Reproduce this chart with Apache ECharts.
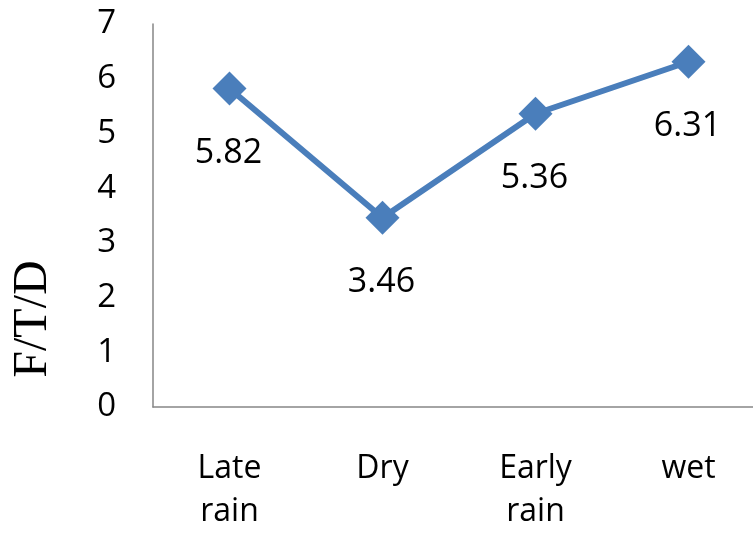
<!DOCTYPE html>
<html>
<head>
<meta charset="utf-8">
<script src="https://cdn.jsdelivr.net/npm/echarts@6/dist/echarts.min.js"></script>
<style>html,body{margin:0;padding:0;background:#fff;}#c{width:753px;height:533px;}</style>
</head>
<body>
<div id="c"></div>
<script>
var categories = ["Late rain", "Dry", "Early rain", "wet"];
var values = [5.82, 3.46, 5.36, 6.31];
var yTicks = [0, 1, 2, 3, 4, 5, 6, 7];
var yName = "F/T/D";

var chart = echarts.init(document.getElementById('c'));
var fontFam = '"Open Sans", sans-serif';
chart.setOption({
  animation: false,
  backgroundColor: '#ffffff',
  grid: { left: 153, top: 24, bottom: 126, width: 612, outerBoundsMode: 'none', containLabel: false },
  xAxis: {
    type: 'category',
    data: categories,
    boundaryGap: true,
    axisLine: { lineStyle: { color: '#868686', width: 1.5 } },
    axisTick: { show: false },
    axisLabel: {
      margin: 40,
      color: '#000',
      fontFamily: fontFam,
      fontSize: 32,
      lineHeight: 43,
      interval: 0,
      formatter: function (v) { return v.replace(' ', '\n'); }
    }
  },
  yAxis: {
    type: 'value',
    min: yTicks[0],
    max: yTicks[yTicks.length - 1],
    interval: 1,
    splitLine: { show: false },
    axisLine: { show: true, lineStyle: { color: '#868686', width: 1.5 } },
    axisTick: { show: false },
    axisLabel: { margin: 37, color: '#000', fontFamily: fontFam, fontSize: 33 }
  },
  graphic: [{
    type: 'text',
    x: 33, y: 319,
    rotation: Math.PI / 2,
    style: {
      text: yName,
      fill: '#000',
      font: '48px "Liberation Serif", serif',
      align: 'center',
      verticalAlign: 'middle'
    }
  }],
  series: [{
    type: 'line',
    data: values,
    symbol: 'diamond',
    symbolSize: 34,
    itemStyle: { color: '#4A7EBB' },
    lineStyle: { color: '#4A7EBB', width: 6 },
    label: {
      show: true,
      position: 'bottom',
      distance: 31,
      offset: [-1, 0],
      color: '#000',
      fontFamily: fontFam,
      fontSize: 34
    }
  }]
});
</script>
</body>
</html>
